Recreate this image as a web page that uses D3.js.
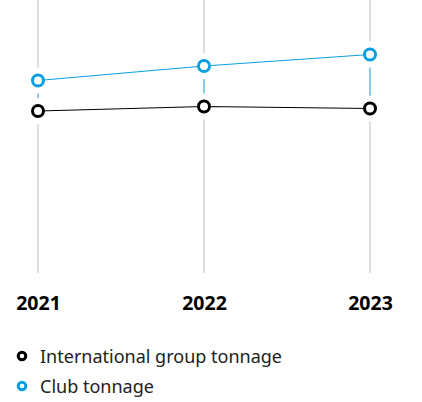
<!DOCTYPE html>
<html>
<head>
<meta charset="utf-8">
<script src="https://cdn.jsdelivr.net/npm/d3@7"></script>
<style>
  body { margin: 0; background: #fff; }
  svg { display: block; font-family: "Noto Sans", sans-serif; }
</style>
</head>
<body>
<div class="chart"></div>
<script>
	// data
	var years = ["2021", "2022", "2023"];
	var intlTonnage = [162, 166.5, 164.5];
	var clubTonnage = [192.5, 207, 218.5];
	var seriesNames = ["International group tonnage", "Club tonnage"];
	var seriesColors = ["#000000", "#0a9fe0"];

	var width = 422, height = 402;

	var svg = d3.select(".chart")
		.append("svg")
			.attr("width", width)
			.attr("height", height);

	// scales
	var x = d3.scalePoint()
		.domain(years)
		.range([38, 370]);

	var y = d3.scaleLinear()
		.domain([0, 273])
		.range([273, 0]);

	// gridlines
	svg.append("g")
		.selectAll("line")
		.data(years)
		.enter().append("line")
			.attr("x1", function(d) { return x(d); })
			.attr("x2", function(d) { return x(d); })
			.attr("y1", y(273))
			.attr("y2", y(0))
			.attr("stroke", "#cfd3d9")
			.attr("stroke-width", 1.5);

	// difference lines
	svg.append("g")
		.selectAll("line")
		.data(years)
		.enter().append("line")
			.attr("x1", function(d) { return x(d); })
			.attr("x2", function(d) { return x(d); })
			.attr("y1", function(d, i) { return y(clubTonnage[i]); })
			.attr("y2", function(d, i) { return y(intlTonnage[i]); })
			.attr("stroke", "#6cc4ee")
			.attr("stroke-width", 1.5);

	var series = [intlTonnage, clubTonnage];

	// white halos around the markers
	series.forEach(function(vals) {
		svg.append("g")
			.selectAll("circle")
			.data(vals)
			.enter().append("circle")
				.attr("cx", function(d, i) { return x(years[i]); })
				.attr("cy", function(d) { return y(d); })
				.attr("r", 13)
				.attr("fill", "#fff");
	});

	// lines
	var line = d3.line()
		.x(function(d, i) { return x(years[i]); })
		.y(function(d) { return y(d); });

	series.forEach(function(vals, s) {
		svg.append("path")
			.datum(vals)
			.attr("d", line)
			.attr("fill", "none")
			.attr("stroke", seriesColors[s])
			.attr("stroke-width", 1.2);
	});

	// markers
	series.forEach(function(vals, s) {
		svg.append("g")
			.selectAll("circle")
			.data(vals)
			.enter().append("circle")
				.attr("cx", function(d, i) { return x(years[i]); })
				.attr("cy", function(d) { return y(d); })
				.attr("r", 5.5)
				.attr("fill", "#fff")
				.attr("stroke", seriesColors[s])
				.attr("stroke-width", 3);
	});

	// x axis labels
	var xAxis = svg.append("g")
		.attr("transform", "translate(0,273)")
		.call(d3.axisBottom(x).tickSize(0).tickPadding(23));
	xAxis.select(".domain").remove();
	xAxis.selectAll("text")
		.attr("font-family", "Noto Sans, sans-serif")
		.attr("font-size", "19.5px")
		.attr("font-weight", "bold")
		.attr("fill", "#000");

	// legend
	var legend = svg.append("g")
		.attr("transform", "translate(22,356)");

	seriesNames.forEach(function(name, i) {
		var row = legend.append("g")
			.attr("transform", "translate(0," + (i * 30) + ")");
		row.append("circle")
			.attr("r", 3.8)
			.attr("fill", "#fff")
			.attr("stroke", seriesColors[i])
			.attr("stroke-width", 3);
		row.append("text")
			.attr("x", 18)
			.attr("y", 6.5)
			.attr("font-size", "18px")
			.attr("fill", "#222")
			.text(name);
	});
</script>
</body>
</html>
